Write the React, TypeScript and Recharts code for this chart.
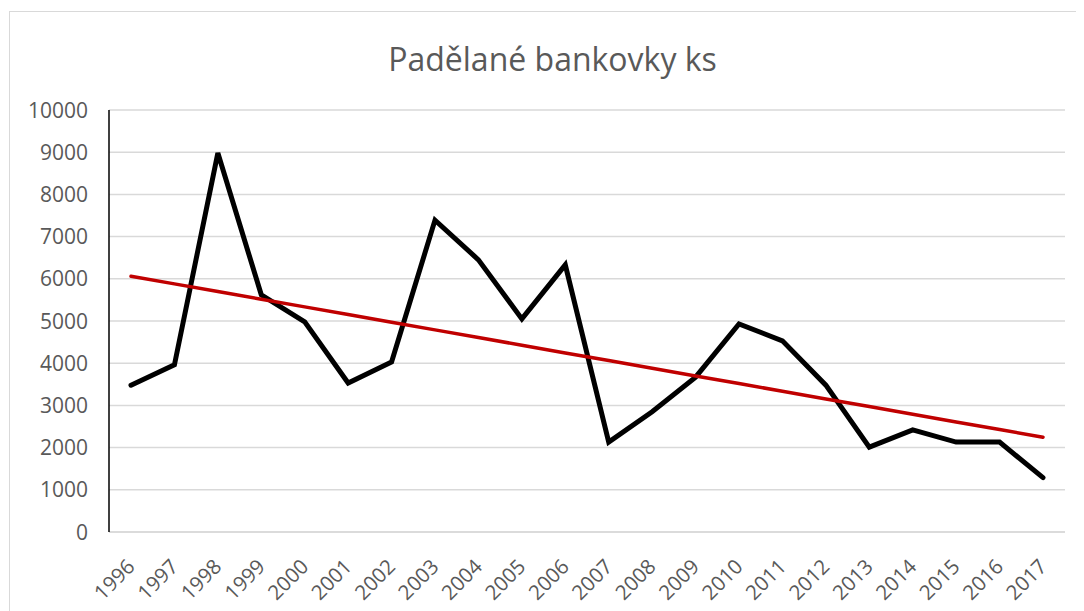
import React from "react";
import { LineChart, Line, XAxis, YAxis, CartesianGrid } from "recharts";

const years: string[] = [
  "1996", "1997", "1998", "1999", "2000", "2001", "2002", "2003", "2004", "2005", "2006",
  "2007", "2008", "2009", "2010", "2011", "2012", "2013", "2014", "2015", "2016", "2017",
];

const counterfeits: number[] = [
  3480, 3960, 8980, 5620, 4980, 3530, 4030, 7390, 6450, 5050, 6330,
  2130, 2850, 3670, 4930, 4530, 3480, 2010, 2420, 2130, 2130, 1290,
];

const yTicks: number[] = [0, 1000, 2000, 3000, 4000, 5000, 6000, 7000, 8000, 9000, 10000];

const title = "Padělané bankovky ks";

// Linear least-squares trendline of the series (as the spreadsheet trendline)
const n = counterfeits.length;
const meanX = (n - 1) / 2;
const meanY = counterfeits.reduce((a, b) => a + b, 0) / n;
let sxy = 0;
let sxx = 0;
counterfeits.forEach((v, i) => {
  sxy += (i - meanX) * (v - meanY);
  sxx += (i - meanX) * (i - meanX);
});
const slope = sxy / sxx;
const intercept = meanY - slope * meanX;

const data = years.map((y, i) => ({
  year: y,
  value: counterfeits[i],
  trend: intercept + slope * i,
}));

const FONT = "'Open Sans', 'Noto Sans', sans-serif";
const TEXT = "#595959";

const XTick = (props: any) => {
  const { x, y, payload } = props;
  const ax = x + 5;
  const ay = y + 36;
  return (
    <text
      x={ax}
      y={ay}
      transform={`rotate(-45 ${ax} ${ay})`}
      textAnchor="end"
      fill={TEXT}
      fontSize={20.5}
      fontFamily={FONT}
    >
      {payload.value}
    </text>
  );
};

const YTick = (props: any) => {
  const { x, y, payload } = props;
  return (
    <text
      x={x}
      y={y}
      dy="0.36em"
      textAnchor="end"
      fill={TEXT}
      fontSize={21}
      fontFamily={FONT}
    >
      {payload.value}
    </text>
  );
};

export default function App() {
  return (
    <div style={{ position: "relative", width: 1076, height: 603 }}>
      <div
        style={{
          position: "absolute",
          left: 1,
          top: 3,
          width: 1075,
          height: 600,
          borderLeft: "1px solid #d9d9d9",
          borderTop: "1px solid #d9d9d9",
          boxSizing: "border-box",
        }}
      />
      <svg
        width={1076}
        height={100}
        style={{ position: "absolute", left: 0, top: 0, pointerEvents: "none" }}
      >
        <text
          x={544.5}
          y={63}
          textAnchor="middle"
          fill={TEXT}
          fontSize={32}
          fontFamily={FONT}
        >
          {title}
        </text>
      </svg>
      <div style={{ position: "absolute", left: 0, top: 0 }}>
        <LineChart
          width={1076}
          height={603}
          data={data}
          margin={{ top: 102, right: 19, left: 0, bottom: 0 }}
        >
          <CartesianGrid vertical={false} stroke="#d9d9d9" strokeWidth={1.5} />
          <XAxis
            dataKey="year"
            height={79}
            padding={{ left: 22, right: 22 }}
            tickLine={false}
            tickSize={0}
            tickMargin={0}
            axisLine={{ stroke: "#d9d9d9", strokeWidth: 1.5 }}
            tick={<XTick />}
            interval={0}
          />
          <YAxis
            width={101}
            domain={[0, 10000]}
            ticks={yTicks}
            tickLine={false}
            tickSize={0}
            tickMargin={21}
            axisLine={{ stroke: "#000000", strokeWidth: 1.5 }}
            tick={<YTick />}
            interval={0}
          />
          <Line
            type="linear"
            dataKey="value"
            stroke="#000000"
            strokeWidth={5}
            strokeLinecap="round"
            dot={false}
            activeDot={false}
            isAnimationActive={false}
          />
          <Line
            type="linear"
            dataKey="trend"
            stroke="#c00000"
            strokeWidth={3.5}
            strokeLinecap="round"
            dot={false}
            activeDot={false}
            isAnimationActive={false}
          />
        </LineChart>
      </div>
    </div>
  );
}
